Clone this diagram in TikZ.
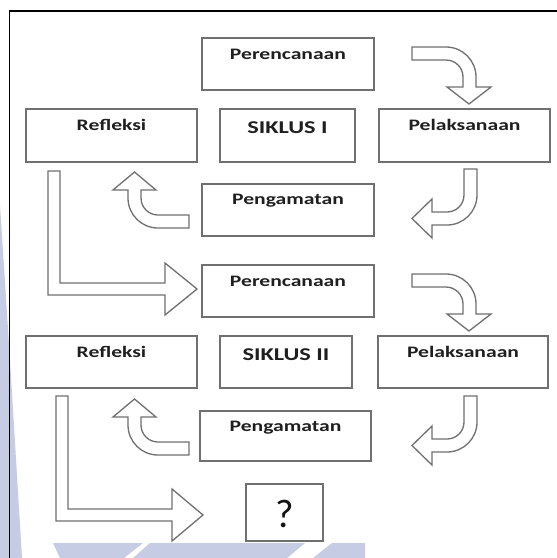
\documentclass[tikz,border=0pt]{standalone}
\usepackage{fontspec}
\setmainfont{Carlito}
\usepackage{graphicx}
\definecolor{wm}{HTML}{C6CCE4}
\definecolor{ln}{HTML}{707070}
\newcommand\stretchtxt[1]{\scalebox{1.35}[1]{#1}}
\newcommand\arrA{\draw[blk] (412,47) -- (446,47) .. controls (462.6,47) and (476,60.4) .. (476,77) -- (476,87) -- (491,87) -- (469,104) -- (447,87) -- (463,87) -- (463,77) .. controls (463,67.6) and (455.4,60) .. (446,60) -- (412,60) -- cycle;}
\newcommand\arrB{\draw[blk] (464,169) -- (477,169) -- (477,195) .. controls (477,211.6) and (463.6,225) .. (447,225) -- (432,225) -- (432,238) -- (412,218.5) -- (432,199) -- (432,212) -- (447,212) .. controls (456.4,212) and (464,204.4) .. (464,195) -- cycle;}
\newcommand\arrC{\draw[blk] (189,215) -- (158,215) .. controls (148.6,215) and (141,207.4) .. (141,198) -- (141,190) -- (156,190) -- (134.5,172) -- (113,190) -- (128,190) -- (128,198) .. controls (128,214.6) and (141.4,228) .. (158,228) -- (189,228) -- cycle;}
\begin{document}
\begin{tikzpicture}[x=1pt,y=-1pt,
  box/.style={draw=ln,line width=1.3pt,inner sep=0pt,outer sep=0pt},
  lbl/.style={anchor=base,inner sep=0pt,font=\bfseries\fontsize{16}{16}\selectfont,text=black!88},
  big/.style={anchor=base,inner sep=0pt,font=\bfseries\fontsize{18}{18}\selectfont,text=black!88},
  blk/.style={draw=ln,line width=1.3pt,fill=white,line join=miter}]
\useasboundingbox (0,0) rectangle (557,558);
\fill[white] (0,0) rectangle (557,558);
% watermark
\fill[wm] (0,205) -- (10,360) -- (22,558) -- (0,558) -- cycle;
\fill[wm] (53,543) -- (143,543) -- (124,558) -- (60,558) -- cycle;
\fill[wm] (150,543) -- (305,543) -- (287,558) -- (133,558) -- cycle;
\fill[wm] (332,543) -- (365,543) -- (365,558) -- (313,558) -- cycle;
% frame
\draw[black,line width=1.6pt] (557,11) -- (9.5,11) -- (9.5,558);
% boxes cycle I
\node[box,minimum width=172pt,minimum height=52pt] (per1) at (288,64) {};
\node[box,minimum width=171pt,minimum height=53pt] (ref1) at (111.5,135.5) {};
\node[box,minimum width=135pt,minimum height=53pt] (sik1) at (287.5,135.5) {};
\node[box,minimum width=171pt,minimum height=53pt] (pel1) at (464.5,135.5) {};
\node[box,minimum width=172pt,minimum height=52pt] (pen1) at (288,210) {};
% boxes cycle II
\node[box,minimum width=172pt,minimum height=52pt] (per2) at (288,291) {};
\node[box,minimum width=171pt,minimum height=52pt] (ref2) at (111.5,362) {};
\node[box,minimum width=132pt,minimum height=52pt] (sik2) at (286,362) {};
\node[box,minimum width=170pt,minimum height=52pt] (pel2) at (463,362) {};
\node[box,minimum width=171pt,minimum height=50pt] (pen2) at (285.5,436) {};
\node[box,minimum width=77pt,minimum height=57pt] (q) at (284.5,512.5) {};
% labels
\node[lbl] (tper1) at ([yshift=-21pt]per1.north) {\stretchtxt{Perencanaan}};
\node[lbl] (tref1) at ([yshift=-21pt]ref1.north) {\stretchtxt{Refleksi}};
\node[big] (tsik1) at ([yshift=-24pt]sik1.north) {\stretchtxt{SIKLUS I}};
\node[lbl] (tpel1) at ([yshift=-21pt]pel1.north) {\stretchtxt{Pelaksanaan}};
\node[lbl] (tpen1) at ([yshift=-20pt]pen1.north) {\stretchtxt{Pengamatan}};
\node[lbl] (tper2) at ([yshift=-21pt]per2.north) {\stretchtxt{Perencanaan}};
\node[lbl] (tref2) at ([yshift=-21pt]ref2.north) {\stretchtxt{Refleksi}};
\node[big] (tsik2) at ([yshift=-24pt]sik2.north) {\stretchtxt{SIKLUS II}};
\node[lbl] (tpel2) at ([yshift=-21pt]pel2.north) {\stretchtxt{Pelaksanaan}};
\node[lbl] (tpen2) at ([yshift=-20pt]pen2.north) {\stretchtxt{Pengamatan}};
\node[anchor=base,inner sep=0pt,font=\fontsize{40}{40}\selectfont,text=black!92] (tq) at ([yshift=-43pt]q.north) {?};
% curved block arrows
\arrA \arrB \arrC
\begin{scope}[yshift=-227pt]
\arrA \arrB \arrC
\end{scope}
% L-shaped block arrows
\draw[blk] (48,171) -- (60,171) -- (60,283) -- (165,283) -- (165,263) -- (197,289) -- (165,315) -- (165,295) -- (48,295) -- cycle;
\draw[blk] (56,396) -- (68,396) -- (68,509) -- (172,509) -- (172,489) -- (203,515) -- (172,541) -- (172,521) -- (56,521) -- cycle;
\end{tikzpicture}
\end{document}
